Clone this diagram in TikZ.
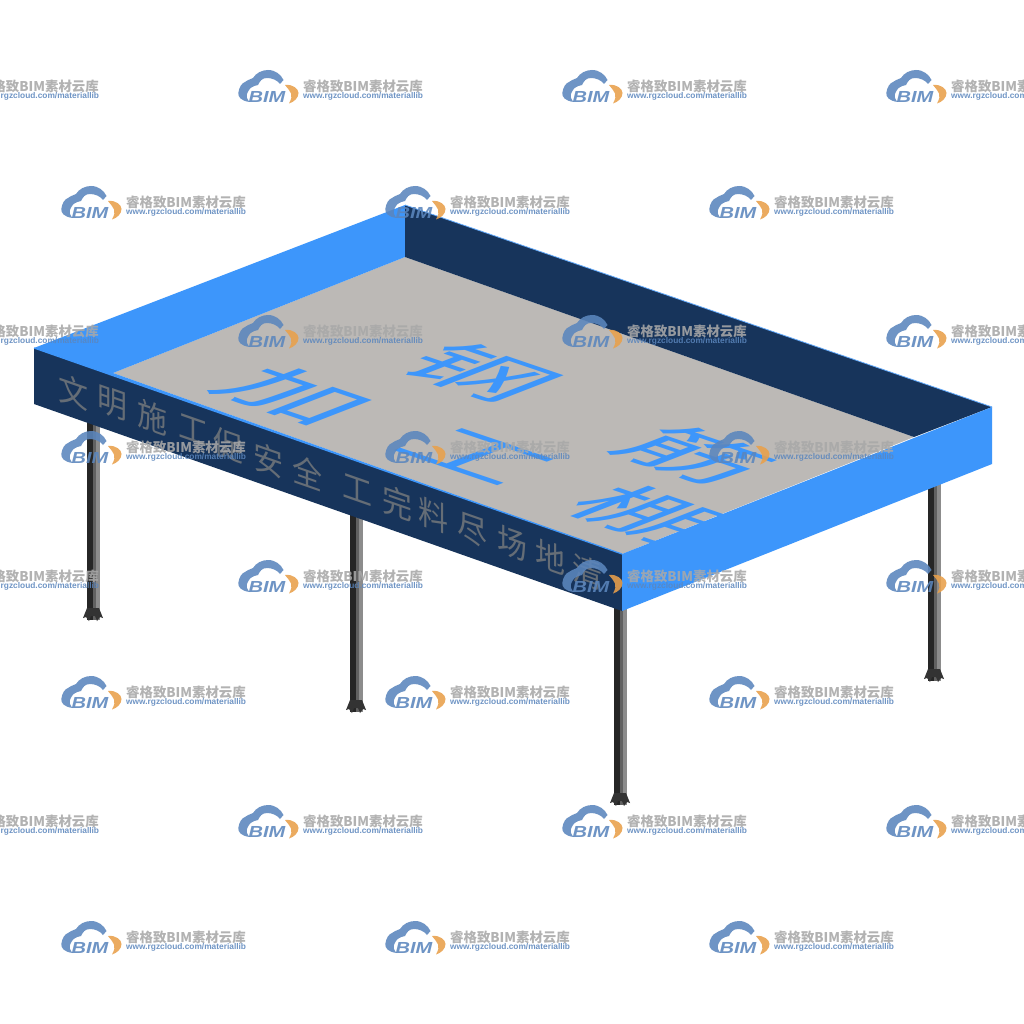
\documentclass[tikz,border=0pt]{standalone}
\usepackage{fontspec}
\setmainfont{Liberation Sans}
\newfontfamily\cjkfont{Noto Sans CJK SC}
\newfontfamily\logofont[FakeStretch=1.25]{Liberation Sans}
\definecolor{wallblue}{HTML}{3D96FB}
\definecolor{wallnavy}{HTML}{17345B}
\definecolor{floorgray}{HTML}{BCB9B6}
\definecolor{markblue}{HTML}{5B86BD}
\definecolor{markgray}{HTML}{A8A8A8}
\definecolor{markorange}{HTML}{E9A04A}
\tikzset{
    floorchar/.style={inner sep=0pt,text=wallblue,font=\cjkfont\fontsize{50}{50}\selectfont,transform shape},
    wallchar/.style={inner sep=0pt,text=gray!75!wallnavy,font=\cjkfont\fontsize{25}{25}\selectfont,transform shape},
    leg/.pic={
        \fill[black!85] (-6.5,-200) rectangle (0,0);
        \fill[black!62] (0,-200) rectangle (2.5,0);
        \fill[black!45] (2.5,-200) rectangle (6.5,0);
        \fill[black!80] (-6,-12) -- (-10,-2) -- (-7,-3) -- (-4,1) -- (-2,-4) -- (2,-4) -- (4,1) -- (7,-3) -- (10,-2) -- (6,-12) -- cycle;
    },
    bimmark/.pic={
        \begin{scope}[opacity=.88]
        \fill[markblue] (12,15) .. controls (3,14) and (0,10) .. (0.3,6) .. controls (1,0) and (4,-4) .. (7,-5)
            .. controls (11,-8) and (14,-8) .. (15,-9) .. controls (18,-14) and (24,-17) .. (30,-17)
            .. controls (38,-17) and (43,-12) .. (45.5,-7) -- (42,-3) .. controls (39,-7) and (34,-9) .. (29,-9)
            .. controls (24,-9) and (22,-6) .. (20,-2) .. controls (15,-1) and (12,1) .. (11,3)
            .. controls (9,6) and (8,9) .. (9,11) .. controls (9.5,12.5) and (10.5,14) .. (12,15) -- cycle;
        \fill[markorange] (47,-2) .. controls (55,-3) and (60.5,2) .. (60.5,6) .. controls (60.5,11) and (56,15) .. (51,16.5)
            .. controls (53.5,12) and (54,9) .. (53,6.5) .. controls (52,3.5) and (50,2) .. (47,-2) -- cycle;
        \node[text=markblue,inner sep=0pt,font=\logofont\bfseries\itshape\fontsize{16}{16}\selectfont] (logo) at (29,10) {BIM};
        \node[text=markgray,inner sep=0pt,anchor=west,font=\cjkfont\bfseries\fontsize{13.4}{14}\selectfont] (name) at (65,-1) {睿格致BIM素材云库};
        \node[text=markblue,inner sep=0pt,anchor=west,font=\bfseries\fontsize{8.35}{9}\selectfont] (url) at (65,9) {www.rgzcloud.com/materiallib};
        \end{scope}
    }
}
\begin{document}
\begin{tikzpicture}[x=1pt,y=-1pt]
    \path[use as bounding box] (0,0) rectangle (1024,1024);
    \clip (0,0) rectangle (1024,1024);
    \fill[white] (0,0) rectangle (1024,1024);
    % legs
    \foreach \x/\y in {93/620,356/712,620/805,934/681}
        \pic at (\x,\y) {leg};
    % shed
    \coordinate (A) at (34,348);
    \coordinate (B) at (405,205);
    \coordinate (C) at (992,407);
    \coordinate (D) at (622,554);
    \coordinate (A2) at (34,404);
    \coordinate (C2) at (992,464);
    \coordinate (D2) at (622,611);
    \coordinate (F1) at (113,373);
    \coordinate (F2) at (405,257);
    \coordinate (F3) at (914,437);
    \fill[floorgray] (F1) -- (F2) -- (F3) -- (D) -- cycle;
    \fill[wallblue] (A) -- (B) -- (F2) -- (F1) -- (D) -- cycle;
    \fill[wallnavy] (B) -- (C) -- (F3) -- (F2) -- cycle;
    \fill[wallnavy] (A) -- (D) -- (D2) -- (A2) -- cycle;
    \fill[wallblue] (D) -- (C) -- (C2) -- (D2) -- cycle;
    \draw[wallblue!80!white,line width=.8pt] (B) -- (C);
    \draw[wallblue,line width=1.2pt] (A) -- (D);
    % floor text
    \foreach \x/\y/\t [count=\i] in {480/372/钢,695/455/筋,296/396/加,477/456/工,648/514/棚} {
        \begin{scope}[cm={2.3,-.78,1.7,.66,(\x,\y)}]
            \node[floorchar] (floor\i) at (0,0) {\t};
        \end{scope}
    }
    % wall text
    \foreach \x/\y/\t [count=\i] in {73/392/文,112/403/明,152/417/施,193/430/工,228/445/促,268/460/安,307/473/全,357/490/工,397/503/完,433/515/料,472/530/尽,512/543/场,550/557/地,587/572/清} {
        \begin{scope}[cm={1.2,-.42,0,1.32,(\x,\y)}]
            \node[wallchar] (wall\i) at (0,0) {\t};
        \end{scope}
    }
    % watermark
    \foreach \y in {87,332,577,822}
        \foreach \x in {-86,238,562,886}
            \pic (m\x-\y) at (\x,\y) {bimmark};
    \foreach \y in {203,448,693,938}
        \foreach \x in {61,385,709}
            \pic (m\x-\y) at (\x,\y) {bimmark};
\end{tikzpicture}
\end{document}
